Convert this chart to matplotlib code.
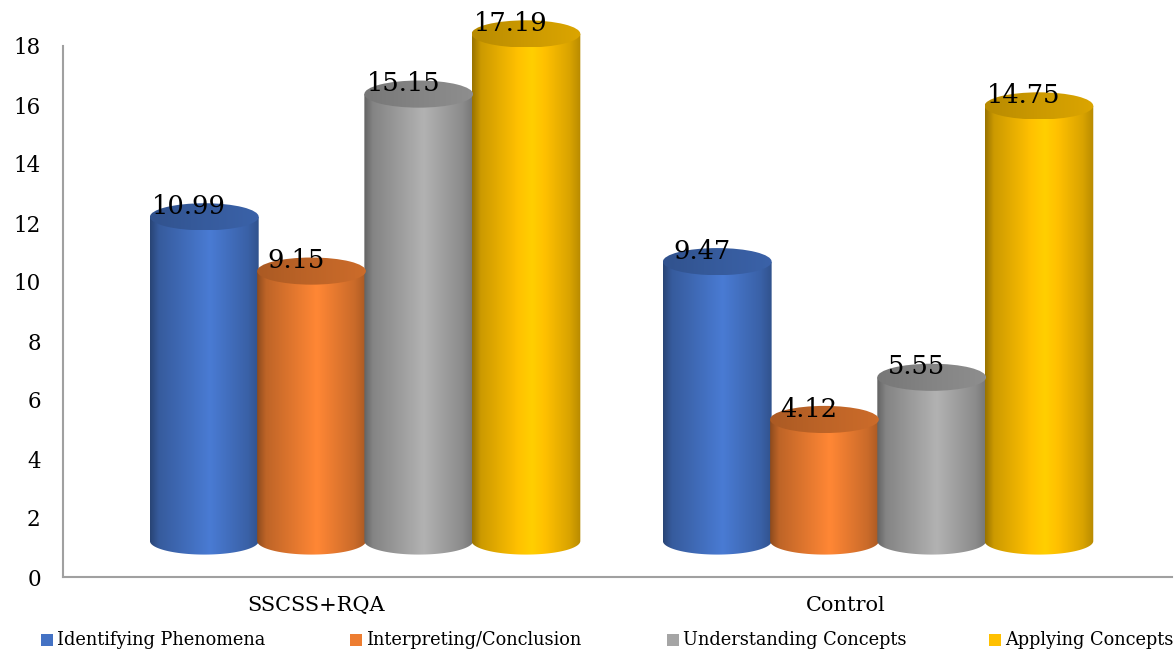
import numpy as np
import matplotlib.pyplot as plt
import matplotlib.colors as mcolors
from matplotlib.patches import Ellipse, Rectangle, PathPatch
from matplotlib.path import Path

groups = ['SSCSS+RQA', 'Control']
series = ['Identifying Phenomena', 'Interpreting/Conclusion',
          'Understanding Concepts', 'Applying Concepts']
identifying = [10.99, 9.47]
interpreting = [9.15, 4.12]
understanding = [15.15, 5.55]
applying = [17.19, 14.75]
colors = ['#4472C4', '#ED7D31', '#A5A5A5', '#FFC000']

plt.rcParams['font.family'] = 'DejaVu Serif'

W, H = 1174, 652
fig = plt.figure(figsize=(W / 100, H / 100), dpi=100)
ax = fig.add_axes([63 / W, 1 - 577 / H, 1109 / W, 531 / H])

bar_w = 0.212      # cylinder width in group units
floor = 1.22       # floor lift of the 3d base
ell_h = 0.92       # height of the cap/base ellipses


def shade(color, t, stops, mult):
    base = np.array(mcolors.to_rgb(color))
    m = np.interp(t, stops, mult)
    return np.clip(base[None, :] * m[:, None], 0, 1)


def cylinder(xc, val, color):
    x0 = xc - bar_w / 2
    y1 = floor + val
    # body outline: straight sides plus the lower half of the base ellipse
    th = np.linspace(np.pi, 2 * np.pi, 60)
    bx = xc + bar_w / 2 * np.cos(th)
    by = floor + ell_h / 2 * np.sin(th)
    verts = [(x0, y1)] + list(zip(bx, by)) + [(x0 + bar_w, y1), (x0, y1)]
    codes = [Path.MOVETO] + [Path.LINETO] * (len(verts) - 2) + [Path.CLOSEPOLY]
    body = PathPatch(Path(verts, codes), facecolor='none', edgecolor='none', clip_on=False)
    ax.add_patch(body)
    t = np.linspace(0, 1, 200)
    grad = shade(color, t, [0, 0.08, 0.55, 0.9, 1], [0.6, 0.8, 1.08, 0.85, 0.72])
    im = ax.imshow(grad[None, :, :], extent=[x0, x0 + bar_w, floor - ell_h / 2, y1],
                   aspect='auto', interpolation='bilinear', zorder=2)
    im.set_clip_path(body)
    im.set_clip_box(fig.bbox)
    # top cap
    cap = Ellipse((xc, y1), bar_w, ell_h, facecolor='none', edgecolor='none', clip_on=False)
    ax.add_patch(cap)
    gcap = shade(color, t, [0, 0.5, 1], [0.72, 0.8, 0.86])
    im2 = ax.imshow(gcap[None, :, :], extent=[x0, x0 + bar_w, y1 - ell_h / 2, y1 + ell_h / 2],
                    aspect='auto', interpolation='bilinear', zorder=3)
    im2.set_clip_path(cap)
    im2.set_clip_box(fig.bbox)
    ax.text(xc - 0.03, y1 + 0.35, f'{val:.2f}', ha='center', va='center',
            fontsize=18.5, color='black', zorder=5, clip_on=False)


data = [identifying, interpreting, understanding, applying]
offsets = np.array([-1.5, -0.5, 0.5, 1.5]) * 0.209
for gi in range(len(groups)):
    for si, vals in enumerate(data):
        cylinder(gi + offsets[si], vals[gi], colors[si])

ax.set_xlim(-0.589, 1.573)
ax.set_ylim(0, 18)
ax.set_yticks(range(0, 19, 2))
ax.set_xticks([-0.095, 1 - 0.064])
ax.set_xticklabels(groups)
ax.tick_params(axis='y', length=0, pad=16, labelsize=15.5)
ax.tick_params(axis='x', length=0, pad=14, labelsize=15)
for side in ['top', 'right']:
    ax.spines[side].set_visible(False)
for side in ['left', 'bottom']:
    ax.spines[side].set_color('#A0A0A0')
    ax.spines[side].set_linewidth(1.5)

# legend along the bottom edge
sq_x = [41, 350, 667, 989]
for x, name, c in zip(sq_x, series, colors):
    fig.patches.append(Rectangle((x / W, 1 - 646 / H), 12 / W, 12 / H,
                                 transform=fig.transFigure, facecolor=c, edgecolor='none'))
    fig.text((x + 16) / W, 1 - 640 / H, name, ha='left', va='center', fontsize=12.8)

fig.savefig('out.png', dpi=100)
